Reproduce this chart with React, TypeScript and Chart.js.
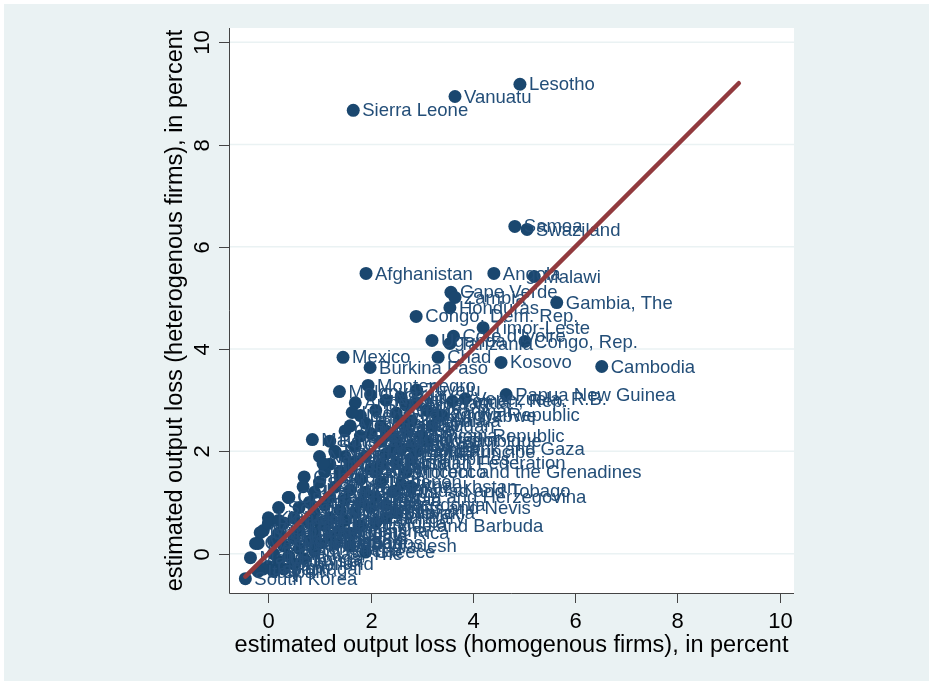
import { useEffect, useRef } from "react"
import { Chart, registerables } from "chart.js"

Chart.register(...registerables)

// country names with estimated output loss (in percent)
const countries = [
  "Lesotho", "Vanuatu", "Sierra Leone", "Samoa", "Swaziland", "Afghanistan", "Angola", "Malawi",
  "Cape Verde", "Zambia", "Honduras", "Gambia, The", "Congo, Dem. Rep.", "Timor-Leste", "Cote d'Ivoire", "Uganda",
  "Tanzania", "Congo, Rep.", "Mexico", "Chad", "Burkina Faso", "Kosovo", "Cambodia", "Papua New Guinea",
  "Moldova", "Montenegro", "Venezuela, R.B.", "Yemen, Rep.", "Kyrgyz Republic", "Guatemala", "Albania", "Dominican Republic",
  "El Salvador", "West Bank and Gaza", "Russian Federation", "St. Vincent and the Grenadines", "Trinidad and Tobago", "Bosnia and Herzegovina", "St. Kitts and Nevis", "Hungary",
  "Antigua and Barbuda", "Bangladesh", "Greece", "Armenia", "Georgia", "Nepal", "Haiti", "Nicaragua",
  "Bolivia", "Benin", "Ghana", "Kenya", "Rwanda", "Mali", "Niger", "Senegal",
  "Togo", "Ethiopia", "Madagascar", "Guinea", "Liberia", "Mozambique", "Burundi", "Cameroon",
  "Nigeria", "Pakistan", "India", "Sri Lanka", "Philippines", "Indonesia", "Vietnam", "Egypt",
  "Morocco", "Tunisia", "Algeria", "Jordan", "Lebanon", "Syria", "Iran", "Turkey",
  "Ukraine", "Belarus", "Kazakhstan", "Uzbekistan", "Tajikistan", "Azerbaijan", "Serbia", "Macedonia",
  "Bulgaria", "Romania", "Croatia", "Slovenia", "Slovakia", "Poland", "Czech Republic", "Lithuania",
  "Latvia", "Estonia", "Colombia", "Peru", "Chile", "Argentina", "Brazil", "Uruguay",
  "Paraguay", "Panama", "Costa Rica", "Jamaica", "Belize", "Guyana", "Suriname", "Barbados",
  "Dominica", "Grenada", "St. Lucia", "Bahamas, The", "Fiji", "Tonga", "Malaysia", "Thailand",
  "China", "Japan", "Portugal", "Spain", "Italy", "Bhutan", "Maldives", "Mauritania",
  "Djibouti", "Comoros", "Eritrea", "Sudan", "Zimbabwe", "Botswana", "Namibia", "Gabon",
  "Guinea-Bissau", "Solomon Islands", "Kiribati", "Micronesia", "Marshall Islands", "Seychelles", "Lao PDR", "Myanmar",
  "Tuvalu", "Iraq", "Mauritius", "Sao Tome and Principe", "Libya", "Oman", "Qatar", "Israel",
  "Cyprus", "Malta", "Bahrain", "Kuwait", "South Korea",
]

const homogenous = [
  4.92, 3.65, 1.66, 4.82, 5.06, 1.91, 4.41, 5.2,
  3.57, 3.65, 3.55, 5.64, 2.89, 4.2, 3.62, 3.2,
  3.55, 5.02, 1.46, 3.32, 1.99, 4.55, 6.52, 4.65,
  1.39, 1.95, 3.85, 3.6, 3.3, 2.6, 2.2, 2.4,
  2.5, 2.6, 2.5, 2.1, 2.45, 2.1, 2.0, 2.3,
  1.8, 1.6, 1.9, 1.7, 2.0, 2.3, 2.6, 2.9,
  2.1, 1.8, 2.5, 2.8, 1.9, 2.3, 2.0, 1.8,
  2.7, 3.0, 1.6, 1.5, 2.8, 3.1, 2.2, 1.7,
  1.3, 1.5, 1.9, 2.3, 2.8, 1.2, 1.6, 2.0,
  2.7, 1.1, 1.4, 1.8, 2.2, 2.6, 1.0, 1.3,
  1.6, 1.9, 2.8, 0.9, 1.2, 1.5, 1.8, 2.3,
  0.8, 1.1, 1.4, 1.7, 2.5, 0.6, 0.9, 1.2,
  1.5, 2.1, 0.5, 0.8, 1.1, 1.4, 0.3, 0.6,
  0.9, 1.2, 1.6, 0.2, 0.5, 0.8, 1.0, 1.3,
  0.3, 0.6, 0.9, 0.1, 0.4, 0.7, 0.2, 0.5,
  0.0, -0.1, 0.3, 0.1, -0.2, 1.0, 1.4, 1.7,
  2.2, 2.4, 2.9, 3.2, 3.4, 1.2, 1.0, 0.7,
  0.4, 0.2, 0.0, -0.1, -0.2, 0.1, 2.7, 3.1,
  2.9, 1.64, 0.86, 1.31, 1.07, 0.68, 0.39, -0.16,
  -0.25, -0.35, 0.0, 0.2, -0.45,
]

const heterogenous = [
  9.18, 8.94, 8.67, 6.4, 6.34, 5.48, 5.48, 5.42,
  5.11, 5.01, 4.81, 4.91, 4.64, 4.42, 4.25, 4.17,
  4.11, 4.15, 3.84, 3.84, 3.64, 3.74, 3.66, 3.11,
  3.17, 3.29, 3.03, 2.98, 2.72, 2.6, 2.5, 2.31,
  2.22, 2.05, 1.78, 1.6, 1.22, 1.1, 0.9, 0.7,
  0.55, 0.15, 0.03, 2.95, 3.1, 3.0, 3.05, 2.95,
  2.8, 2.7, 2.75, 2.6, 2.55, 2.4, 2.35, 2.3,
  2.4, 2.3, 2.5, 2.4, 2.1, 2.2, 2.2, 2.1,
  2.0, 1.9, 1.9, 1.95, 1.85, 1.75, 1.7, 1.65,
  1.6, 1.6, 1.5, 1.45, 1.4, 1.35, 1.4, 1.3,
  1.25, 1.2, 1.3, 1.2, 1.1, 1.05, 1.0, 0.95,
  1.0, 0.95, 0.85, 0.8, 0.8, 0.9, 0.8, 0.7,
  0.65, 0.6, 0.7, 0.6, 0.55, 0.45, 0.6, 0.45,
  0.4, 0.35, 0.4, 0.4, 0.3, 0.25, 0.2, 0.2,
  0.15, 0.1, 0.05, 0.0, -0.05, -0.1, -0.15, -0.2,
  -0.25, -0.3, -0.3, -0.35, -0.35, 0.6, 1.6, 1.8,
  1.75, 2.0, 2.0, 2.5, 2.7, 2.2, 1.9, 1.5,
  1.1, 0.9, 0.7, 0.45, 0.2, 0.25, 2.9, 2.8,
  3.2, 2.76, 2.23, 1.98, 1.76, 1.31, 1.1, 0.41,
  0.2, -0.08, 0.59, 0.65, -0.49,
]

// 45-degree reference line end points
const fitLine = [-0.45, 9.2]
const ticks = [0, 2, 4, 6, 8, 10]
const axisMin = -0.77
const axisMax = 10.28

const xTitle = "estimated output loss (homogenous firms), in percent"
const yTitle = "estimated output loss (heterogenous firms), in percent"

const NAVY = "#1a476f"
const FONT = "'Liberation Sans', Arial, sans-serif"

const stataAxes = {
  id: "stataAxes",
  beforeDraw(chart) {
    const { ctx, chartArea: a } = chart
    ctx.save()
    ctx.fillStyle = "#ffffff"
    ctx.fillRect(0, 0, chart.width, chart.height)
    ctx.fillStyle = "#eaf2f3"
    ctx.fillRect(4, 4, chart.width - 9, chart.height - 8)
    ctx.fillStyle = "#ffffff"
    ctx.fillRect(a.left, a.top, a.right - a.left, a.bottom - a.top)
    const xs = chart.scales.x
    const ys = chart.scales.y
    // horizontal grid
    ctx.strokeStyle = "#eaf2f3"
    ctx.lineWidth = 1.5
    ticks.forEach((t) => {
      const y = ys.getPixelForValue(t)
      ctx.beginPath()
      ctx.moveTo(a.left, y)
      ctx.lineTo(a.right, y)
      ctx.stroke()
    })
    // axis lines
    ctx.strokeStyle = "#444"
    ctx.lineWidth = 1
    ctx.beginPath()
    ctx.moveTo(a.left + 0.5, a.top)
    ctx.lineTo(a.left + 0.5, a.bottom + 0.5)
    ctx.lineTo(a.right, a.bottom + 0.5)
    ctx.stroke()
    ctx.fillStyle = "#000"
    ctx.font = `22px ${FONT}`
    ticks.forEach((t) => {
      const x = Math.round(xs.getPixelForValue(t)) + 0.5
      ctx.beginPath()
      ctx.moveTo(x, a.bottom)
      ctx.lineTo(x, a.bottom + 10)
      ctx.stroke()
      ctx.textAlign = "center"
      ctx.textBaseline = "middle"
      ctx.fillText(String(t), x, a.bottom + 29)
      const y = Math.round(ys.getPixelForValue(t)) + 0.5
      ctx.beginPath()
      ctx.moveTo(a.left, y)
      ctx.lineTo(a.left - 10, y)
      ctx.stroke()
      ctx.save()
      ctx.translate(a.left - 26, y)
      ctx.rotate(-Math.PI / 2)
      ctx.fillText(String(t), 0, 0)
      ctx.restore()
    })
    ctx.font = `23.5px ${FONT}`
    ctx.fillText(xTitle, (a.left + a.right) / 2, a.bottom + 53)
    ctx.save()
    ctx.translate(a.left - 53, (a.top + a.bottom) / 2)
    ctx.rotate(-Math.PI / 2)
    ctx.fillText(yTitle, 0, 0)
    ctx.restore()
    ctx.restore()
  },
  afterDatasetDraw(chart, args) {
    if (args.index !== 0) return
    const { ctx } = chart
    const meta = chart.getDatasetMeta(0)
    ctx.save()
    ctx.fillStyle = "#234e78"
    ctx.font = `18.5px ${FONT}`
    ctx.textAlign = "left"
    ctx.textBaseline = "middle"
    meta.data.forEach((pt, i) => {
      ctx.fillText(countries[i], pt.x + 9, pt.y + 1)
    })
    ctx.restore()
  },
}

export default function App() {
  const chartRef = useRef(null)
  const chartInstance = useRef(null)

  useEffect(() => {
    if (!chartRef.current) return
    if (chartInstance.current) chartInstance.current.destroy()
    const ctx = chartRef.current.getContext("2d")

    chartInstance.current = new Chart(ctx, {
      type: "scatter",
      data: {
        datasets: [
          {
            label: "countries",
            data: countries.map((_, i) => ({ x: homogenous[i], y: heterogenous[i] })),
            backgroundColor: NAVY,
            borderColor: NAVY,
            pointRadius: 6.5,
            borderWidth: 0,
            order: 1,
          },
          {
            type: "line",
            label: "45 degree",
            data: fitLine.map((v) => ({ x: v, y: v })),
            borderColor: "#923a3e",
            borderWidth: 4.5,
            borderCapStyle: "round",
            pointRadius: 0,
            order: 0,
          },
        ],
      },
      options: {
        responsive: false,
        animation: false,
        layout: { padding: { left: 229, right: 140, top: 28, bottom: 92 } },
        plugins: { legend: { display: false }, tooltip: { enabled: false } },
        scales: {
          x: { type: "linear", display: false, min: axisMin, max: axisMax },
          y: { type: "linear", display: false, min: axisMin, max: axisMax },
        },
      },
      plugins: [stataAxes],
    })

    return () => {
      if (chartInstance.current) chartInstance.current.destroy()
    }
  }, [])

  return (
    <div style={{ position: "absolute", left: 0, top: 0, width: 934, height: 685 }}>
      <canvas ref={chartRef} width={934} height={685} />
    </div>
  )
}
